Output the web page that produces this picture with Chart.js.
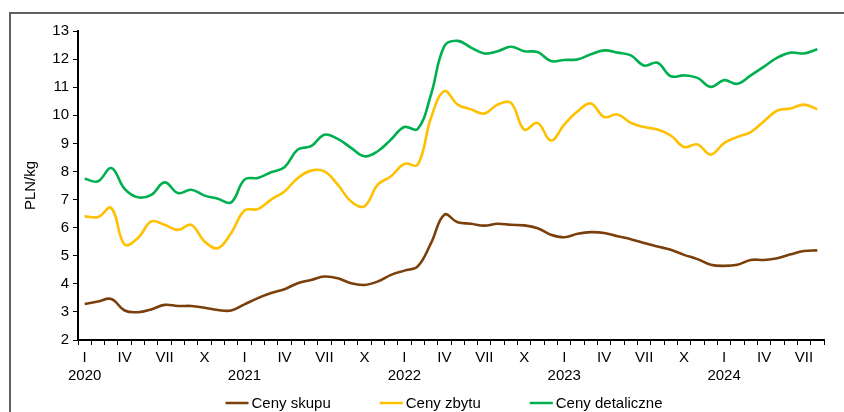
<!DOCTYPE html>
<html lang="pl">
<head>
<meta charset="utf-8">
<title>Ceny</title>
<script src="https://cdn.jsdelivr.net/npm/chart.js@4"></script>
<style>
    body { margin: 0; background: #fff; }
    #frame { position: absolute; left: 9px; top: 12px; width: 880px; height: 440px; border: 2px solid #606060; }
    #priceChart { position: absolute; left: 0; top: 0; }
</style>
</head>
<body>
<div id="frame"></div>
<canvas id="priceChart" width="844" height="412"></canvas>
<script>
const years = ['2020', '2021', '2022', '2023', '2024'];
const romanMonths = ['I', '', '', 'IV', '', '', 'VII', '', '', 'X', '', ''];
const monthCount = 56;

const cenySkupu = [
    3.28, 3.37, 3.46, 3.05, 2.99, 3.09, 3.25, 3.21, 3.21, 3.15, 3.07, 3.05,
    3.27, 3.49, 3.67, 3.81, 4.02, 4.14, 4.26, 4.20, 4.02, 3.96, 4.08, 4.32,
    4.47, 4.62, 5.45, 6.46, 6.19, 6.14, 6.07, 6.14, 6.10, 6.08, 5.98, 5.75,
    5.66, 5.78, 5.84, 5.81, 5.69, 5.59, 5.45, 5.33, 5.21, 5.03, 4.88, 4.68,
    4.64, 4.68, 4.85, 4.85, 4.91, 5.05, 5.17, 5.19
];
const cenyZbytu = [
    6.40, 6.38, 6.70, 5.40, 5.63, 6.22, 6.10, 5.92, 6.10, 5.51, 5.27, 5.81,
    6.61, 6.66, 7.00, 7.29, 7.77, 8.03, 8.00, 7.53, 6.93, 6.76, 7.53, 7.83,
    8.27, 8.24, 9.91, 10.86, 10.38, 10.21, 10.06, 10.38, 10.44, 9.49, 9.73, 9.10,
    9.67, 10.14, 10.42, 9.94, 10.03, 9.73, 9.58, 9.49, 9.28, 8.87, 8.96, 8.60,
    9.01, 9.23, 9.40, 9.79, 10.17, 10.24, 10.38, 10.21
];
const cenyDetaliczne = [
    7.74, 7.65, 8.12, 7.38, 7.08, 7.17, 7.61, 7.23, 7.35, 7.14, 7.03, 6.90,
    7.71, 7.77, 7.97, 8.15, 8.78, 8.90, 9.31, 9.16, 8.84, 8.54, 8.72, 9.14,
    9.58, 9.51, 10.74, 12.46, 12.65, 12.41, 12.20, 12.28, 12.44, 12.28, 12.25, 11.93,
    11.97, 11.99, 12.17, 12.31, 12.23, 12.13, 11.77, 11.87, 11.39, 11.42, 11.33, 11.01,
    11.25, 11.12, 11.42, 11.73, 12.05, 12.23, 12.20, 12.35
];

const labels = [];
for (let i = 0; i < monthCount; i++) {
    const roman = romanMonths[i % 12];
    labels.push(i % 12 === 0 ? [roman, years[i / 12]] : roman);
}

const fontFamily = '"Liberation Sans", Arial, sans-serif';

// legend drawn by hand so it can sit exactly under the plot
const bottomLegend = {
    id: 'bottomLegend',
    afterDraw(chart) {
        const ctx = chart.ctx;
        const lineLen = 23, textGap = 3, itemGap = 49, y = 403;
        ctx.save();
        ctx.font = '15px ' + fontFamily;
        ctx.textBaseline = 'middle';
        const items = chart.data.datasets.map(ds => ({
            text: ds.label, color: ds.borderColor, w: ctx.measureText(ds.label).width
        }));
        const total = items.reduce((s, it) => s + lineLen + textGap + it.w, 0) + itemGap * (items.length - 1);
        let x = 444 - total / 2;
        items.forEach(it => {
            ctx.strokeStyle = it.color;
            ctx.lineWidth = 2.5;
            ctx.beginPath();
            ctx.moveTo(x, y);
            ctx.lineTo(x + lineLen, y);
            ctx.stroke();
            ctx.fillStyle = '#000';
            ctx.fillText(it.text, x + lineLen + textGap, y + 1);
            x += lineLen + textGap + it.w + itemGap;
        });
        ctx.restore();
    }
};

const makeSet = (label, data, color) => ({
    label, data,
    borderColor: color,
    backgroundColor: color,
    borderWidth: 2.6,
    pointRadius: 0,
    tension: 0.4,
    fill: false
});

new Chart(document.getElementById('priceChart').getContext('2d'), {
    type: 'line',
    data: {
        labels,
        datasets: [
            makeSet('Ceny skupu', cenySkupu, '#7B3F0C'),
            makeSet('Ceny zbytu', cenyZbytu, '#FFC000'),
            makeSet('Ceny detaliczne', cenyDetaliczne, '#00B050')
        ]
    },
    options: {
        responsive: false,
        animation: false,
        devicePixelRatio: 1,
        layout: { padding: { top: 31, right: 20, bottom: 0, left: 0 } },
        plugins: { legend: { display: false }, tooltip: { enabled: false } },
        scales: {
            x: {
                offset: true,
                grid: { offset: true, drawOnChartArea: false, color: '#000', tickLength: 5, lineWidth: 1 },
                border: { color: '#000', width: 2 },
                ticks: {
                    autoSkip: false, maxRotation: 0, padding: 4, color: '#000',
                    font: { family: fontFamily, size: 15 }
                },
                afterFit: scale => { scale.height = 72; }
            },
            y: {
                min: 2, max: 13,
                grid: { drawOnChartArea: false, color: '#000', tickLength: 5 },
                border: { color: '#000', width: 2 },
                ticks: {
                    stepSize: 1, padding: 4, color: '#000',
                    font: { family: fontFamily, size: 15 }
                },
                title: {
                    display: true, text: 'PLN/kg', color: '#000',
                    padding: { top: 22, bottom: 0 },
                    font: { family: fontFamily, size: 15 }
                },
                afterFit: scale => { scale.width = 78; }
            }
        }
    },
    plugins: [bottomLegend]
});
</script>
</body>
</html>
